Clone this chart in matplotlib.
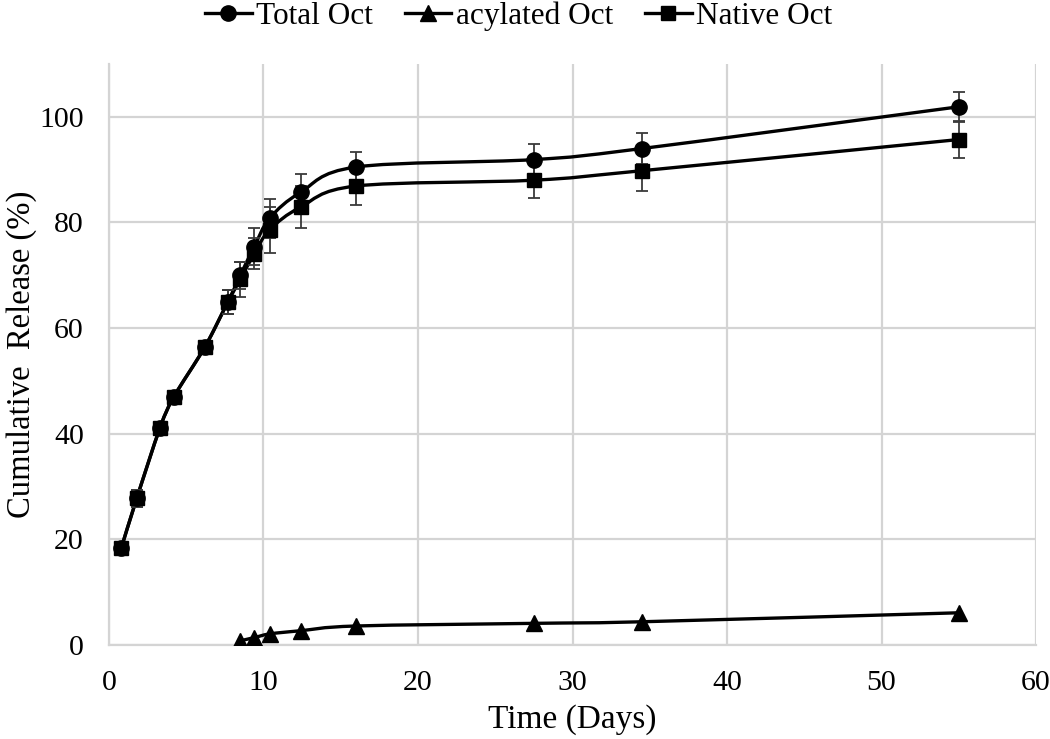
import numpy as np
import matplotlib
matplotlib.use("Agg")
import matplotlib.pyplot as plt
from matplotlib.path import Path
from matplotlib.patches import PathPatch
from matplotlib.lines import Line2D

plt.rcParams["font.family"] = ["Liberation Serif", "DejaVu Serif"]

# time points (days)
days = [0.8, 1.8, 3.3, 4.2, 6.2, 7.7, 8.5, 9.4, 10.4, 12.4, 16, 27.5, 34.5, 55]
total = [18.4, 27.8, 41.1, 47.0, 56.4, 65.0, 70.0, 75.4, 80.8, 85.7, 90.5, 91.9, 94.0, 101.9]
total_err = [0.8, 1.6, 0.8, 0.8, 0.8, 2.3, 2.6, 3.5, 3.7, 3.4, 2.9, 2.9, 2.9, 2.8]
native = [18.4, 27.8, 41.1, 47.0, 56.4, 65.0, 69.2, 74.1, 78.6, 82.9, 86.9, 88.0, 89.8, 95.7]
native_err = [0.8, 1.6, 0.8, 0.8, 0.8, 2.3, 3.4, 3.0, 4.4, 4.0, 3.6, 3.3, 3.8, 3.5]
acyl_days = [8.5, 9.4, 10.4, 12.4, 16, 27.5, 34.5, 55]
acylated = [0.8, 1.4, 2.1, 2.7, 3.6, 4.1, 4.4, 6.1]

labels = ["Total Oct", "acylated Oct", "Native Oct"]


def smooth_path(x, y):
    # excel style smoothed line: cubic bezier segments through the points
    p = np.column_stack([x, y]).astype(float)
    verts = [p[0]]
    codes = [Path.MOVETO]
    n = len(p)
    for i in range(n - 1):
        p0 = p[i - 1] if i > 0 else p[i]
        p3 = p[i + 2] if i + 2 < n else p[i + 1]
        c1 = p[i] + (p[i + 1] - p0) / 6.0
        c2 = p[i + 1] - (p3 - p[i]) / 6.0
        verts += [c1, c2, p[i + 1]]
        codes += [Path.CURVE4] * 3
    return Path(verts, codes)


fig = plt.figure(figsize=(10.5, 7.39), dpi=100)
ax = fig.add_axes([0.1038, 0.1272, 0.8829, 0.7862])

grid_c = "#d4d4d4"
ax.set_axisbelow(True)
ax.grid(True, color=grid_c, linewidth=1.6)
for s in ["top", "right"]:
    ax.spines[s].set_visible(False)
for s in ["left", "bottom"]:
    ax.spines[s].set_color(grid_c)
    ax.spines[s].set_linewidth(1.6)

lw = 2.4
ax.add_patch(PathPatch(smooth_path(days, total), fill=False, lw=lw, ec="black", zorder=3))
ax.add_patch(PathPatch(smooth_path(acyl_days, acylated), fill=False, lw=lw, ec="black", zorder=3))
ax.add_patch(PathPatch(smooth_path(days, native), fill=False, lw=lw, ec="black", zorder=3))

ecol = "#3a3a3a"
ax.errorbar(days, total, yerr=total_err, fmt="none", ecolor=ecol, elinewidth=1.3,
            capsize=4.5, capthick=1.3, zorder=4)
ax.errorbar(days, native, yerr=native_err, fmt="none", ecolor=ecol, elinewidth=1.3,
            capsize=4.5, capthick=1.3, zorder=4)

ax.plot(days, total, "o", color="black", ms=11, zorder=5)
ax.plot(acyl_days, acylated, "^", color="black", ms=11, zorder=5)
ax.plot(days, native, "s", color="black", ms=10.5, zorder=6)

ax.set_xlim(0, 60)
ax.set_ylim(0, 110)
ax.set_xticks(np.arange(0, 61, 10))
ax.set_yticks(np.arange(0, 101, 20))
ax.tick_params(length=0, labelsize=21.5, pad=18)

ax.set_xlabel("Time (Days)", fontsize=24, labelpad=6)
ax.set_ylabel("Cumulative  Release (%)", fontsize=23.5, va="center")
ax.yaxis.set_label_coords(-0.094, 0.5)

handles = [
    Line2D([], [], color="black", lw=lw, marker="o", ms=11),
    Line2D([], [], color="black", lw=lw, marker="^", ms=11),
    Line2D([], [], color="black", lw=lw, marker="s", ms=10.5),
]
fig.legend(handles, labels, loc="center", bbox_to_anchor=(0.494, 1 - 16 / 739), ncol=3,
           frameon=False, fontsize=22.5, handlelength=1.5, handletextpad=0.15,
           columnspacing=1.0, borderaxespad=0)

fig.savefig("out.png", dpi=100)
